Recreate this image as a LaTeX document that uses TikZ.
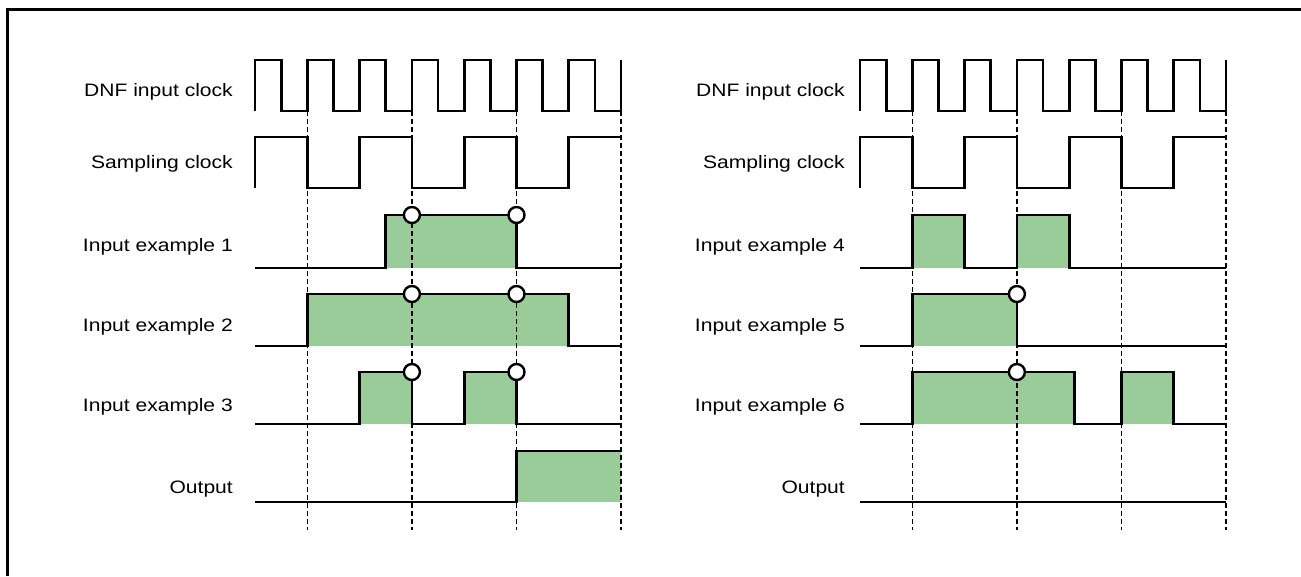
\documentclass[tikz,border=0pt]{standalone}
\usepackage{fontspec}
\setmainfont{Liberation Sans}
\usepackage{graphicx}

\definecolor{pulsegreen}{RGB}{153,204,153}
\newcommand{\lbl}[1]{\scalebox{1.17}[1]{#1}}

\begin{document}
\begin{tikzpicture}[
    x=1pt,
    y=-1pt,
    line join=miter,
    wave/.style={
        line width=2.7pt
    },
    grid/.style={
        line width=1.6pt,
        dash pattern=on 5pt off 3pt
    },
    pulse/.style={
        fill=pulsegreen
    },
    sample/.style={
        circle,
        draw,
        fill=white,
        line width=2.4pt,
        minimum size=16pt,
        inner sep=0pt
    },
    label/.style={
        anchor=base east,
        inner sep=0pt
    },
    frame/.style={
        line width=3pt
    },
    every node/.style={
        font=\fontsize{18}{20}\selectfont
    }
]

\def\T{52.3}

\useasboundingbox (0,0) rectangle (1301,576);

% =================================================
% Frame (cut at the right and at the bottom)
% =================================================

\draw[frame] (7.5,576) -- (7.5,9) -- (1301,9);

% =================================================
% Pulses of the input examples
% =================================================

% left panel
\begin{scope}[xshift=255pt]
    \fill[pulse] (2.5*\T,215) rectangle (5*\T,268);
    \fill[pulse] (\T,294) rectangle (6*\T,346);
    \fill[pulse] (2*\T,372) rectangle (3*\T,424);
    \fill[pulse] (4*\T,372) rectangle (5*\T,424);
    \fill[pulse] (5*\T,451) rectangle (7*\T,502);
\end{scope}

% right panel
\begin{scope}[xshift=860pt]
    \fill[pulse] (\T,215) rectangle (2*\T,268);
    \fill[pulse] (3*\T,215) rectangle (4*\T,268);
    \fill[pulse] (\T,294) rectangle (3*\T,346);
    \fill[pulse] (\T,372) rectangle (4.1*\T,424);
    \fill[pulse] (5*\T,372) rectangle (6*\T,424);
\end{scope}

% =================================================
% Parts shared by both panels
% =================================================

\foreach \px/\lx/\na/\nb/\nc in {255/-22/1/2/3, 860/-15/4/5/6} {
\begin{scope}[xshift=\px pt]

    % dashed sampling edges
    \foreach \k in {1,3,5,7}
        \draw[grid] (\k*\T,111) -- (\k*\T,530);

    % DNF input clock
    \draw[wave] (0,111) -- (0,60)
        foreach \i in {0,...,6} {
            -- ({(\i+0.5)*\T},60) -- ({(\i+0.5)*\T},111)
            -- ({(\i+1)*\T},111) -- ({(\i+1)*\T},60)
        };

    % sampling clock
    \draw[wave] (0,188) -- (0,137)
        foreach \i in {0,2,4} {
            -- ({(\i+1)*\T},137) -- ({(\i+1)*\T},188)
            -- ({(\i+2)*\T},188) -- ({(\i+2)*\T},137)
        } -- (7*\T,137);

    % labels
    \node[label] (dnf\na) at (\lx,96.5)  {\lbl{DNF input clock}};
    \node[label] (smp\na) at (\lx,168.5) {\lbl{Sampling clock}};
    \node[label] (in\na)  at (\lx,251.5) {\lbl{Input example \na}};
    \node[label] (in\nb)  at (\lx,331.5) {\lbl{Input example \nb}};
    \node[label] (in\nc)  at (\lx,411.5) {\lbl{Input example \nc}};
    \node[label] (out\na) at (\lx,493.5) {\lbl{Output}};

\end{scope}
}

% =================================================
% Left panel: input examples 1-3
% =================================================

\begin{scope}[xshift=255pt]

    % Input example 1
    \draw[wave] (0,268) -- (2.5*\T,268) -- (2.5*\T,215)
        -- (5*\T,215) -- (5*\T,268) -- (7*\T,268);

    % Input example 2
    \draw[wave] (0,346) -- (\T,346) -- (\T,294)
        -- (6*\T,294) -- (6*\T,346) -- (7*\T,346);

    % Input example 3
    \draw[wave] (0,424) -- (2*\T,424) -- (2*\T,372)
        -- (3*\T,372) -- (3*\T,424) -- (4*\T,424) -- (4*\T,372)
        -- (5*\T,372) -- (5*\T,424) -- (7*\T,424);

    % Output
    \draw[wave] (0,502) -- (5*\T,502) -- (5*\T,451) -- (7*\T,451);

    % sampling points
    \node[sample] (s1a) at (3*\T,215) {};
    \node[sample] (s1b) at (5*\T,215) {};
    \node[sample] (s2a) at (3*\T,294) {};
    \node[sample] (s2b) at (5*\T,294) {};
    \node[sample] (s3a) at (3*\T,372) {};
    \node[sample] (s3b) at (5*\T,372) {};

\end{scope}

% =================================================
% Right panel: input examples 4-6
% =================================================

\begin{scope}[xshift=860pt]

    % Input example 4
    \draw[wave] (0,268) -- (\T,268) -- (\T,215) -- (2*\T,215)
        -- (2*\T,268) -- (3*\T,268) -- (3*\T,215) -- (4*\T,215)
        -- (4*\T,268) -- (7*\T,268);

    % Input example 5
    \draw[wave] (0,346) -- (\T,346) -- (\T,294)
        -- (3*\T,294) -- (3*\T,346) -- (7*\T,346);

    % Input example 6
    \draw[wave] (0,424) -- (\T,424) -- (\T,372)
        -- (4.1*\T,372) -- (4.1*\T,424) -- (5*\T,424) -- (5*\T,372)
        -- (6*\T,372) -- (6*\T,424) -- (7*\T,424);

    % Output
    \draw[wave] (0,502) -- (7*\T,502);

    % sampling points
    \node[sample] (s5a) at (3*\T,294) {};
    \node[sample] (s6a) at (3*\T,372) {};

\end{scope}

\end{tikzpicture}
\end{document}
